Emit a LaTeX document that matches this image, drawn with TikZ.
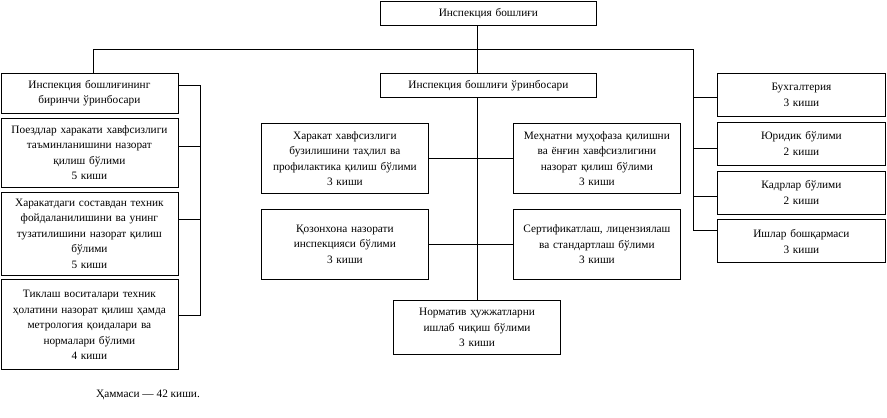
\documentclass[tikz,border=0pt]{standalone}
\usepackage{fontspec}
\setmainfont{Liberation Serif}
\usetikzlibrary{positioning}
\tikzset{unit node/.style={draw,line width=0.8pt,align=center,inner sep=2pt,font=\fontsize{11.3}{15.5}\selectfont},}
\tikzset{head node/.style={unit node,text width=212pt,minimum height=24pt},}
\tikzset{left node/.style={unit node,text width=173pt},}
\tikzset{mid node/.style={unit node,text width=163pt,minimum height=70pt},}
\tikzset{right node/.style={unit node,text width=164pt,minimum height=43pt},}
\begin{document}
\begin{tikzpicture}[x=1pt,y=-1pt,line width=0.8pt]
       \useasboundingbox (0,0) rectangle (887,418);
       % top
       \node[head node,anchor=north west] (chief) at (380,1) {Инспекция бошлиғи};
       \node[head node,anchor=north west] (dep2) at (380,73) {Инспекция бошлиғи ўринбосари};
       
       % left column
       \node[left node,anchor=north west,minimum height=40pt] (dep1) at (0.5,73) {Инспекция бошлиғининг\\биринчи ўринбосари};
       \node[left node,minimum height=69pt] (sec1) [below = 4pt of dep1] {Поездлар харакати хавфсизлиги\\таъминланишини назорат\\қилиш бўлими\\5 киши};
       \node[left node,minimum height=83pt] (sec2) [below = 4pt of sec1] {Харакатдаги составдан техник\\фойдаланилишини ва унинг\\тузатилишини назорат қилиш\\бўлими\\5 киши};
       \node[left node,minimum height=90pt] (sec3) [below = 4pt of sec2] {Тиклаш воситалари техник\\ҳолатини назорат қилиш ҳамда\\метрология қоидалари ва\\нормалари бўлими\\4 киши};
       
       % middle
       \node[mid node,anchor=north west] (tahlil) at (261,123) {Харакат хавфсизлиги\\бузилишини таҳлил ва\\профилактика қилиш бўлими\\3 киши};
       \node[mid node,anchor=north west] (mehnat) at (513,123) {Меҳнатни муҳофаза қилишни\\ва ёнғин хавфсизлигини\\назорат қилиш бўлими\\3 киши};
       \node[mid node] (qozon) [below = 15pt of tahlil] {Қозонхона назорати\\инспекцияси бўлими\\3 киши};
       \node[mid node] (cert) [below = 15pt of mehnat] {Сертификатлаш, лицензиялаш\\ва стандартлаш бўлими\\3 киши};
       \node[mid node,minimum height=54pt,anchor=north] (norm) at (477,300) {Норматив ҳужжатларни\\ишлаб чиқиш бўлими\\3 киши};
       
       % right column
       \node[right node,anchor=north west] (buh) at (717,73) {Бухгалтерия\\3 киши};
       \node[right node] (yur) [below = 5pt of buh] {Юридик бўлими\\2 киши};
       \node[right node] (kadr) [below = 5pt of yur] {Кадрлар бўлими\\2 киши};
       \node[right node] (ishlar) [below = 5pt of kadr] {Ишлар бошқармаси\\3 киши};
       
       \node[font=\fontsize{11.3}{15.5}\selectfont] (total) at (148,395) {Ҳаммаси — 42 киши.};
       
       \coordinate (busL) at (93,49);
       \coordinate (busR) at (693,49);
       
       \draw
       (busL) -- (busR)
       (busL) -- (busL |- dep1.north)
       (norm.north |- chief.south) -- (norm.north |- dep2.north)
       (norm.north |- dep2.south) -- (norm.north)
       (tahlil.east) -- (mehnat.west)
       (qozon.east) -- (cert.west)
       (busR) |- ([yshift=10.5pt]ishlar.west)
       ([yshift=-2.5pt]buh.west) -- ++(-24,0)
       ([yshift=-4.5pt]yur.west) -- ++(-24,0)
       ([yshift=-3.5pt]kadr.west) -- ++(-24,0);
       
       \draw ([yshift=8pt]dep1.east) -- ++(22.5,0) coordinate (ltop);
       \draw ([yshift=9pt]sec3.east) -- ++(22.5,0) coordinate (lbot);
       \draw
       (ltop) -- (lbot)
       ([yshift=6.5pt]sec1.east) -- ++(22.5,0)
       ([yshift=14.5pt]sec2.east) -- ++(22.5,0);
    \end{tikzpicture}
\end{document}
